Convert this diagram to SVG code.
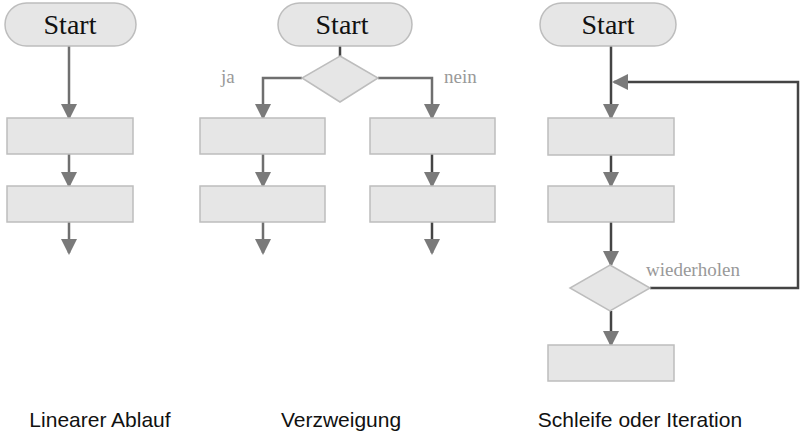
<svg xmlns="http://www.w3.org/2000/svg" width="800" height="440" viewBox="0 0 800 440">
<style>
.box{fill:#e6e6e6;stroke:#bdbdbd;stroke-width:1.5}
.t{font-family:"Liberation Serif",serif;font-size:28px;fill:#111;text-anchor:middle}
.l{font-family:"Liberation Serif",serif;font-size:19px;fill:#999}
.c{font-family:"Liberation Sans",sans-serif;font-size:21px;fill:#111;text-anchor:middle}
.e{fill:none;stroke:#6f6f6f;stroke-width:2.5}
.d{fill:none;stroke:#444;stroke-width:2.5}
</style>
<defs><marker id="b" markerWidth="16" markerHeight="16" refX="14" refY="8" orient="auto" markerUnits="userSpaceOnUse" viewBox="0 0 16 16"><path d="M0,0L16,8L0,16z" fill="#7a7a7a"/></marker></defs>
<g id="connectors">
<path class="e" d="M69,46V118" marker-end="url(#b)"/>
<path class="e" d="M69,154V186" marker-end="url(#b)"/>
<path class="e" d="M69,222V253" marker-end="url(#b)"/>
<path class="d" d="M340,46V56"/>
<path class="e" d="M302,78H263V118" marker-end="url(#b)"/>
<path class="e" d="M378,78H432V118" marker-end="url(#b)"/>
<path class="e" d="M263,154V186" marker-end="url(#b)"/>
<path class="d" d="M432,154V186" marker-end="url(#b)"/>
<path class="e" d="M263,222V253" marker-end="url(#b)"/>
<path class="d" d="M432,222V253" marker-end="url(#b)"/>
<path class="d" d="M611,46V118" marker-end="url(#b)"/>
<path class="d" d="M611,155V186" marker-end="url(#b)"/>
<path class="d" d="M611,222V265" marker-end="url(#b)"/>
<path class="d" d="M611,311V345" marker-end="url(#b)"/>
<path class="d" d="M650,288H798V82H614" marker-end="url(#b)"/>
</g>
<g id="start1"><rect class="box" x="5" y="3" width="131" height="43" rx="21.5"/><text class="t" x="70" y="34">Start</text></g>
<g id="r11"><rect class="box" x="7" y="118" width="126" height="36"/></g>
<g id="r12"><rect class="box" x="7" y="186" width="126" height="36"/></g>
<g id="start2"><rect class="box" x="278" y="3" width="134" height="43" rx="21.5"/><text class="t" x="342" y="34">Start</text></g>
<g id="dec1"><polygon class="box" points="340,56 378,78 340,102 302,78"/></g>
<text class="l" x="221" y="83">ja</text><text class="l" x="444" y="83">nein</text>
<g id="r21"><rect class="box" x="200" y="118" width="125" height="36"/></g>
<g id="r22"><rect class="box" x="200" y="186" width="125" height="36"/></g>
<g id="r23"><rect class="box" x="370" y="118" width="125" height="36"/></g>
<g id="r24"><rect class="box" x="370" y="186" width="125" height="36"/></g>
<g id="start3"><rect class="box" x="540" y="3" width="136" height="43" rx="21.5"/><text class="t" x="608" y="34">Start</text></g>
<g id="r31"><rect class="box" x="548" y="118" width="126" height="37"/></g>
<g id="r32"><rect class="box" x="548" y="186" width="126" height="36"/></g>
<g id="dec2"><polygon class="box" points="610,265 650,288 610,311 570,288"/></g>
<text class="l" x="646" y="276">wiederholen</text>
<g id="r33"><rect class="box" x="548" y="345" width="126" height="36"/></g>
<text class="c" x="100" y="427">Linearer Ablauf</text>
<text class="c" x="341" y="427">Verzweigung</text>
<text class="c" x="640" y="427">Schleife oder Iteration</text>
</svg>
